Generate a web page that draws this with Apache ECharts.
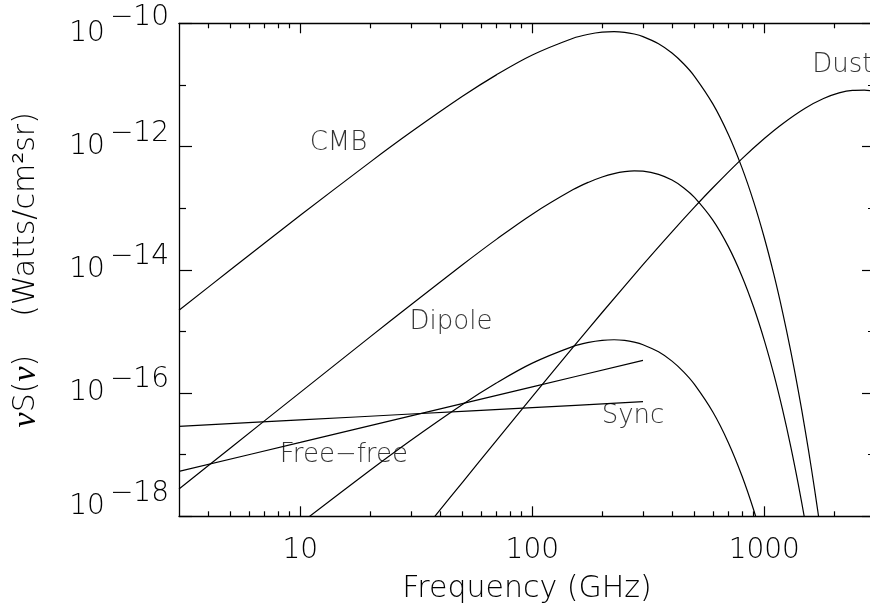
<!DOCTYPE html>
<html><head><meta charset="utf-8">
<script src="https://cdn.jsdelivr.net/npm/echarts@6/dist/echarts.min.js"></script>
<style>html,body{margin:0;padding:0;background:#fff}#c{width:870px;height:610px}</style>
</head><body><div id="c"></div>
<script>
// ---- data (GHz, Watts/cm^2 sr) ----
const freqCMB = [3,5,10,20,30,50,70,100,150,175,200,225,250,275,300,350,400,450,500,600,700,800,900,1000,1100,1200,1300,1400,1500,1600,1700,1800];
const cmbVals = [2.20e-15,1.001e-14,7.657e-14,5.588e-13,1.715e-12,6.524e-12,1.456e-11,3.059e-11,5.724e-11,6.648e-11,7.177e-11,7.323e-11,7.137e-11,6.698e-11,6.090e-11,4.663e-11,3.294e-11,2.187e-11,1.381e-11,4.921e-12,1.567e-12,4.589e-13,1.265e-13,3.310e-14,8.330e-15,2.027e-15,4.800e-16,1.108e-16,2.511e-17,5.586e-18,1.224e-18,2.646e-19];
const freqDipole = [3,5,10,20,30,50,70,100,150,175,200,225,250,275,300,350,400,450,500,600,700,800,900,1000,1100,1200,1300,1400,1500,1600];
const dipoleVals = [2.778e-18,1.286e-17,1.026e-16,8.155e-16,2.716e-15,1.207e-14,3.116e-14,8.001e-14,2.002e-13,2.641e-13,3.204e-13,3.638e-13,3.913e-13,4.022e-13,3.978e-13,3.543e-13,2.857e-13,2.133e-13,1.496e-13,6.396e-14,2.376e-14,7.953e-15,2.466e-15,7.170e-16,1.985e-16,5.269e-17,1.352e-17,3.360e-18,8.159e-19,1.936e-19];
const freqAniso = [10,20,30,50,70,100,150,175,200,225,250,275,300,350,400,450,500,600,700,800,900,1000];
const anisoVals = [7.657e-19,5.588e-18,1.715e-17,6.524e-17,1.456e-16,3.059e-16,5.724e-16,6.648e-16,7.177e-16,7.323e-16,7.137e-16,6.698e-16,6.090e-16,4.663e-16,3.294e-16,2.187e-16,1.381e-16,4.921e-17,1.567e-17,4.589e-18,1.265e-18,3.310e-19];
const freqSync = [3,10,30,100,300];
const syncVals = [2.88e-17,3.66e-17,4.57e-17,5.80e-17,7.25e-17];
const freqFF = [3,10,30,100,300];
const ffVals = [5.36e-18,1.58e-17,4.27e-17,1.26e-16,3.38e-16];
const freqDust = [35,39,50,70,100,150,200,300,400,500,600,800,1000,1200,1500,1800,2100,2400,2700,3000];
const dustVals = [6.78e-19,1.122e-18,3.565e-18,1.694e-17,8.750e-17,5.559e-16,2.028e-15,1.211e-14,4.130e-14,1.038e-13,2.143e-13,6.310e-13,1.349e-12,2.350e-12,4.188e-12,6.012e-12,7.413e-12,8.166e-12,8.260e-12,7.780e-12];

const xMajorTicks = [10,100,1000];
const xTickLabels = ['10','100','1000'];
const xMinorTicks = [4,5,6,7,8,9,20,30,40,50,60,70,80,90,200,300,400,500,600,700,800,900,2000];
const yMajorTicks = [1e-18,1e-16,1e-14,1e-12,1e-10];
const yTickLabels = ['\u221218','\u221216','\u221214','\u221212','\u221210'];
const yMinorTicks = [1e-17,1e-15,1e-13,1e-11];

const labelNames = ['CMB','Dipole','Free\u2212free','Sync','Dust'];
const labelPos = [[14.6,1.15e-12],[44.6,1.41e-15],[15.4,9.8e-18],[271.6,4.13e-17],[1610,2.11e-11]];
const labelAlign = ['center','center','center','center','left'];

// ---- chart ----
const FONT = 'DejaVu Sans';
const TXT = '#000';
const pairs = (xs, ys) => xs.map((x, i) => [x, ys[i]]);
const lineSeries = (name, xs, ys) => ({
  name, type: 'line', data: pairs(xs, ys), showSymbol: false, symbol: 'none',
  smooth: 0.35, clip: true, lineStyle: { color: '#000', width: 1.2 }, silent: true
});
const X0 = 3, X1 = 3000, Y0 = 1e-18, Y1 = 1e-10;
const axLine = { show: true, onZero: false, lineStyle: { color: '#000', width: 1.3 } };
function xAx(pos, ticks, len, labels, line) {
  return {
    type: 'log', logBase: 10, min: X0, max: X1, position: pos,
    axisLine: line ? axLine : { show: false },
    axisTick: { show: true, inside: true, length: len, customValues: ticks, lineStyle: { color: '#000', width: 1.2 } },
    axisLabel: labels ? {
      show: true, customValues: xMajorTicks, margin: 20,
      fontFamily: FONT, fontWeight: 200, fontSize: 28, color: TXT,
      formatter: v => xTickLabels[xMajorTicks.indexOf(Math.round(v))] || ''
    } : { show: false },
    splitLine: { show: false }, minorTick: { show: false }
  };
}
function yAx(pos, ticks, len, labels, line) {
  return {
    type: 'log', logBase: 10, min: Y0, max: Y1, position: pos,
    axisLine: line ? axLine : { show: false },
    axisTick: { show: true, inside: true, length: len, customValues: ticks, lineStyle: { color: '#000', width: 1.2 } },
    axisLabel: labels ? {
      show: true, customValues: yMajorTicks, margin: 10,
      formatter: v => {
        const k = yMajorTicks.findIndex(t => Math.abs(Math.log10(t) - Math.log10(v)) < 0.01);
        if (k < 0) return '';
        const e = yTickLabels[k];
        if (k === 0) return '{bb|10}{eb|' + e + '}';
        if (k === yMajorTicks.length - 1) return '{bt|10}{et|' + e + '}';
        return '{b|10}{e|' + e + '}';
      },
      rich: {
        b:  { fontFamily: FONT, fontWeight: 200, fontSize: 28, color: TXT, lineHeight: 28, padding: [13,0,13,0] },
        e:  { fontFamily: FONT, fontWeight: 200, fontSize: 28, color: TXT, lineHeight: 28, padding: [0,0,26,5] },
        bt: { fontFamily: FONT, fontWeight: 200, fontSize: 28, color: TXT, lineHeight: 28, padding: [33,0,13,0] },
        et: { fontFamily: FONT, fontWeight: 200, fontSize: 28, color: TXT, lineHeight: 28, padding: [17,0,29,5] },
        bb: { fontFamily: FONT, fontWeight: 200, fontSize: 28, color: TXT, lineHeight: 28, padding: [13,0,33,0] },
        eb: { fontFamily: FONT, fontWeight: 200, fontSize: 28, color: TXT, lineHeight: 28, padding: [0,0,46,5] }
      }
    } : { show: false },
    splitLine: { show: false }, minorTick: { show: false }
  };
}
const xAxes = [xAx('bottom', xMajorTicks, 10, true, true), xAx('bottom', xMinorTicks, 5, false, false),
               xAx('top', xMajorTicks, 10, false, true), xAx('top', xMinorTicks, 5, false, false)];
xAxes[0].name = 'Frequency (GHz)';
xAxes[0].nameLocation = 'middle';
xAxes[0].nameGap = 58;
xAxes[0].nameTextStyle = { fontFamily: FONT, fontWeight: 200, fontSize: 30, color: TXT };
const yAxes = [yAx('left', yMajorTicks, 13, true, true), yAx('left', yMinorTicks, 7, false, false),
               yAx('right', yMajorTicks, 13, false, true), yAx('right', yMinorTicks, 7, false, false)];
yAxes[0].name = '{i|\u03bd}S({i|\u03bd})    (Watts/cm\u00b2sr)';
yAxes[0].nameLocation = 'middle';
yAxes[0].nameRotate = 90;
yAxes[0].nameGap = 136;
yAxes[0].nameTextStyle = { fontFamily: FONT, fontWeight: 200, fontSize: 30, color: TXT,
  rich: { i: { fontFamily: 'Liberation Serif', fontStyle: 'italic', fontWeight: 'normal', fontSize: 34, color: TXT } } };

const labelData = labelNames.map((n, i) => ({
  name: n, value: labelPos[i],
  label: { show: true, position: 'inside', formatter: n, align: labelAlign[i], verticalAlign: 'middle',
           fontFamily: FONT, fontWeight: 200, fontSize: 26, color: TXT }
}));

const chart = echarts.init(document.getElementById('c'), null, { renderer: 'canvas' });
chart.setOption({
  animation: false,
  backgroundColor: '#fff',
  grid: { left: 179, top: 23.3, width: 696, height: 493, containLabel: false, outerBoundsMode: 'none' },
  xAxis: xAxes,
  yAxis: yAxes,
  series: [
    lineSeries('CMB', freqCMB, cmbVals),
    lineSeries('Dipole', freqDipole, dipoleVals),
    lineSeries('Anisotropy', freqAniso, anisoVals),
    lineSeries('Sync', freqSync, syncVals),
    lineSeries('Free-free', freqFF, ffVals),
    lineSeries('Dust', freqDust, dustVals),
    { type: 'scatter', data: labelData, symbolSize: 0, silent: true, clip: false }
  ]
});
</script></body></html>
